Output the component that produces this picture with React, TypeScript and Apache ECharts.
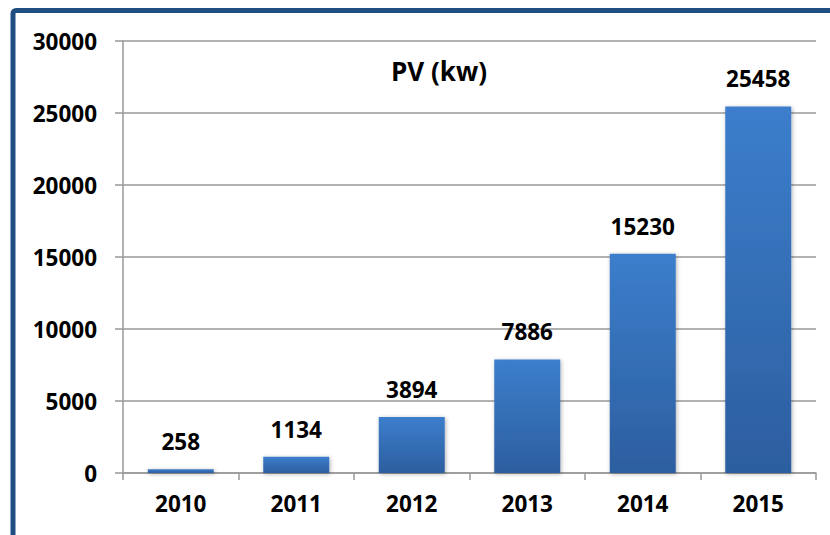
import React, { useEffect, useRef } from "react";
import * as echarts from "echarts";

const years = ["2010", "2011", "2012", "2013", "2014", "2015"];
const pvValues = [258, 1134, 3894, 7886, 15230, 25458];
const chartTitle = "PV (kw)";

export default function App() {
  const ref = useRef<HTMLDivElement>(null);
  useEffect(() => {
    document.body.style.margin = "0";
    const chart = echarts.init(ref.current!, null, { renderer: "svg" });
    const font = "'Open Sans', Lato, sans-serif";
    chart.setOption({
      animation: false,
      backgroundColor: "#ffffff",
      title: {
        text: chartTitle,
        left: 434,
        top: 53,
        textAlign: "center",
        textStyle: { fontFamily: font, fontWeight: "bold", fontSize: 26, color: "#000" },
      },
      graphic: [
        {
          type: "rect",
          shape: { x: 13, y: 10.5, width: 900, height: 700, r: 3 },
          style: { fill: "none", stroke: "#1F4E80", lineWidth: 5 },
          z: 100,
        },
      ],
      grid: { left: 123, right: 14, top: 41, bottom: 62 },
      xAxis: {
        type: "category",
        data: years,
        axisLine: { lineStyle: { color: "#999", width: 1.5 } },
        axisTick: { show: true, length: 7, lineStyle: { color: "#999", width: 1.5 } },
        axisLabel: { margin: 19, fontFamily: font, fontWeight: "bold", fontSize: 22.5, color: "#000" },
      },
      yAxis: {
        type: "value",
        min: 0,
        max: 30000,
        interval: 5000,
        axisLine: { show: true, lineStyle: { color: "#999", width: 1.5 } },
        axisTick: { show: true, length: 8, lineStyle: { color: "#999", width: 1.5 } },
        splitLine: { lineStyle: { color: "#999", width: 1.5 } },
        axisLabel: {
          margin: 26,
          formatter: (v: number) => String(v),
          fontFamily: font,
          fontWeight: "bold",
          fontSize: 22.5,
          color: "#000",
        },
      },
      series: [
        {
          type: "bar",
          data: pvValues,
          barWidth: 66,
          itemStyle: {
            color: new echarts.graphic.LinearGradient(0, 0, 0, 1, [
              { offset: 0, color: "#3C7ECC" },
              { offset: 1, color: "#2C5E9F" },
            ]),
            shadowBlur: 4,
            shadowColor: "rgba(0,0,0,0.3)",
            shadowOffsetX: 1,
            shadowOffsetY: 1,
          },
          label: {
            show: true,
            position: "top",
            distance: 16,
            fontFamily: font,
            fontWeight: "bold",
            fontSize: 22.5,
            color: "#000",
          },
        },
      ],
    });
    return () => chart.dispose();
  }, []);
  return <div ref={ref} style={{ width: 830, height: 535 }} />;
}
